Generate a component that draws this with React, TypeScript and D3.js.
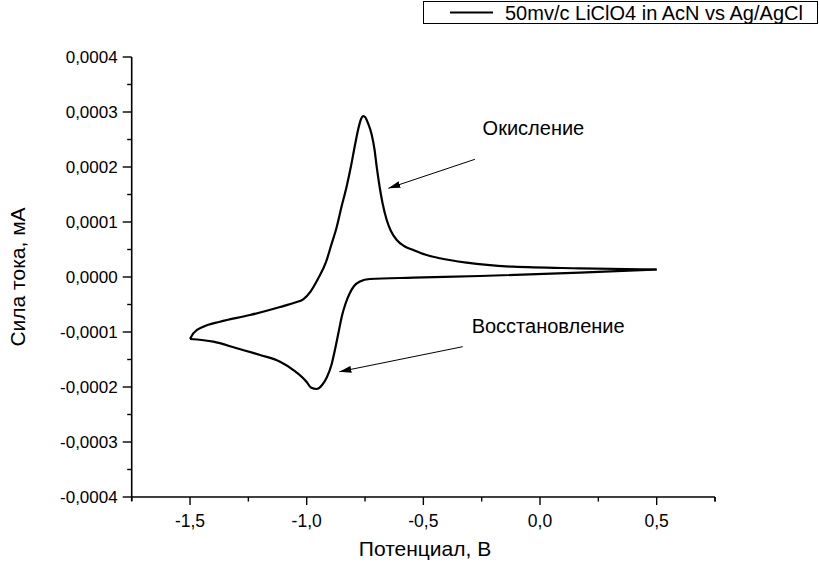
import React from "react";
import * as d3 from "d3";

// Cyclic voltammogram: potential (V) and current (mA)
// Cathodic (lower) branch, ordered by potential
const cathodicPotential: number[] = [
  -1.5, -1.4, -1.3, -1.2, -1.114, -1.057, -1.0, -0.982, -0.957, -0.934, -0.913, -0.894, -0.879, -0.864, -0.849, -0.834, -0.817, -0.797, -0.772, -0.729, -0.543, -0.257, 0.171, 0.5,
];
const cathodicCurrent: number[] = [
  -1.127e-4, -1.176e-4, -1.296e-4, -1.418e-4, -1.54e-4, -1.691e-4, -1.909e-4, -2.009e-4, -2.036e-4, -1.964e-4, -1.818e-4, -1.6e-4, -1.327e-4, -1.018e-4, -7.09e-5, -4.91e-5, -3.09e-5, -1.64e-5, -8.2e-6, -3.6e-6, -1.3e-6, 1.8e-6, 7.8e-6, 1.36e-5,
];
// Anodic (upper) branch, ordered by potential
const anodicPotential: number[] = [
  -1.5, -1.486, -1.443, -1.372, -1.243, -1.114, -1.05, -1.015, -0.982, -0.952, -0.917, -0.896, -0.871, -0.851, -0.829, -0.81, -0.793, -0.778, -0.767, -0.759, -0.75, -0.737, -0.721, -0.709, -0.7, -0.688, -0.675, -0.657, -0.639, -0.614, -0.583, -0.543, -0.493, -0.429, -0.314, -0.115, 0.171, 0.5,
];
const anodicCurrent: number[] = [
  -1.127e-4, -1.024e-4, -9.04e-5, -8.13e-5, -6.91e-5, -5.45e-5, -4.64e-5, -4.05e-5, -2.55e-5, -3.6e-6, 2.73e-5, 5.64e-5, 9.15e-5, 1.273e-4, 1.642e-4, 2.018e-4, 2.4e-4, 2.709e-4, 2.873e-4, 2.927e-4, 2.909e-4, 2.795e-4, 2.582e-4, 2.309e-4, 2.005e-4, 1.654e-4, 1.345e-4, 1.036e-4, 8.36e-5, 6.73e-5, 5.64e-5, 4.91e-5, 4.09e-5, 3.4e-5, 2.6e-5, 1.87e-5, 1.58e-5, 1.36e-5,
];

const xTicks: number[] = [-1.5, -1.0, -0.5, 0.0, 0.5];
const xMinorTicks: number[] = [-1.75, -1.25, -0.75, -0.25, 0.25, 0.75];
const yTicks: number[] = [-0.0004, -0.0003, -0.0002, -0.0001, 0, 0.0001, 0.0002, 0.0003, 0.0004];
const yMinorTicks: number[] = [-0.00035, -0.00025, -0.00015, -0.00005, 0.00005, 0.00015, 0.00025, 0.00035];

const legendLabel = "50mv/c LiClO4 in AcN vs Ag/AgCl";
const xTitle = "Потенциал, В";
const yTitle = "Сила тока, мА";
const annotationTexts: string[] = ["Окисление", "Восстановление"];
const annotationAt: [number, number][] = [[-0.246, 2.582e-4], [-0.293, -1.024e-4]];
const arrowFrom: [number, number][] = [[-0.279, 2.14e-4], [-0.331, -1.267e-4]];
const arrowTo: [number, number][] = [[-0.65, 1.613e-4], [-0.86, -1.722e-4]];

const W = 819;
const H = 564;
const FONT = "'Liberation Sans', Arial, sans-serif";

export default function App() {
  const x = d3.scaleLinear().domain([-1.75, 0.75]).range([131.7, 715]);
  const y = d3.scaleLinear().domain([-0.0004, 0.0004]).range([497, 57]);
  const line = d3
    .line<[number, number]>()
    .x((d) => x(d[0]))
    .y((d) => y(d[1]))
    .curve(d3.curveMonotoneX);
  const lower: [number, number][] = cathodicPotential.map((v, i) => [v, cathodicCurrent[i]]);
  const upper: [number, number][] = anodicPotential.map((v, i) => [v, anodicCurrent[i]]);
  const fmtX = (v: number) => d3.format(".1f")(v).replace(".", ",").replace("−", "-");
  const fmtY = (v: number) => d3.format(".4f")(Math.abs(v) < 1e-12 ? 0 : v).replace(".", ",").replace("−", "-");
  const x0 = x.range()[0];
  const x1 = x.range()[1];
  const y0 = y.range()[0];

  return (
    <svg width={W} height={H} style={{ position: "absolute", left: 0, top: 0, background: "#fff" }} fontFamily={FONT}>
      <defs>
        <marker id="arrow" viewBox="0 0 12 7" refX="12" refY="3.5" markerWidth="12" markerHeight="7" orient="auto" markerUnits="userSpaceOnUse">
          <path d="M0,0 L12,3.5 L0,7 Z" fill="#000" />
        </marker>
      </defs>
      <rect x={0} y={0} width={W} height={H} fill="#fff" />
      {/* axes */}
      <line x1={x0} x2={x1} y1={y0} y2={y0} stroke="#000" strokeWidth={1.6} />
      <line x1={x0} x2={x0} y1={y.range()[1]} y2={y0 + 4} stroke="#000" strokeWidth={1.6} />
      <line x1={x1} x2={x1} y1={y0} y2={y0 + 4.5} stroke="#000" strokeWidth={1.4} />
      {xTicks.map((t) => (
        <g key={"xt" + t}>
          <line x1={x(t)} x2={x(t)} y1={y0} y2={y0 + 8} stroke="#000" strokeWidth={1.4} />
          <text x={x(t)} y={y0 + 30} textAnchor="middle" fontSize={17.5}>
            {fmtX(t)}
          </text>
        </g>
      ))}
      {xMinorTicks.map((t) => (
        <line key={"xm" + t} x1={x(t)} x2={x(t)} y1={y0} y2={y0 + 4.5} stroke="#000" strokeWidth={1.4} />
      ))}
      {yTicks.map((t) => (
        <g key={"yt" + t}>
          <line x1={x0 - 9} x2={x0} y1={y(t)} y2={y(t)} stroke="#000" strokeWidth={1.4} />
          <text x={x0 - 14} y={y(t)} dy="0.35em" textAnchor="end" fontSize={17}>
            {fmtY(t)}
          </text>
        </g>
      ))}
      {yMinorTicks.map((t) => (
        <line key={"ym" + t} x1={x0 - 4.5} x2={x0} y1={y(t)} y2={y(t)} stroke="#000" strokeWidth={1.4} />
      ))}
      <text x={425} y={556} textAnchor="middle" fontSize={21}>
        {xTitle}
      </text>
      <text transform={`translate(25,${y(0)}) rotate(-90)`} textAnchor="middle" fontSize={21}>
        {yTitle}
      </text>
      {/* curve */}
      <path d={line(lower) || ""} fill="none" stroke="#000" strokeWidth={2.2} strokeLinejoin="round" />
      <path d={line(upper) || ""} fill="none" stroke="#000" strokeWidth={2.2} strokeLinejoin="round" />
      {/* annotations */}
      {annotationTexts.map((t, k) => (
        <g key={t}>
          <text x={x(annotationAt[k][0])} y={y(annotationAt[k][1])} fontSize={20}>
            {t}
          </text>
          <line
            x1={x(arrowFrom[k][0])}
            y1={y(arrowFrom[k][1])}
            x2={x(arrowTo[k][0])}
            y2={y(arrowTo[k][1])}
            stroke="#000"
            strokeWidth={1}
            markerEnd="url(#arrow)"
          />
        </g>
      ))}
      {/* legend */}
      <rect x={423.5} y={1.5} width={394} height={22} fill="none" stroke="#000" strokeWidth={1} />
      <line x1={450} x2={493} y1={12.5} y2={12.5} stroke="#000" strokeWidth={2.2} />
      <text x={505} y={19.5} fontSize={20}>
        {legendLabel}
      </text>
    </svg>
  );
}
